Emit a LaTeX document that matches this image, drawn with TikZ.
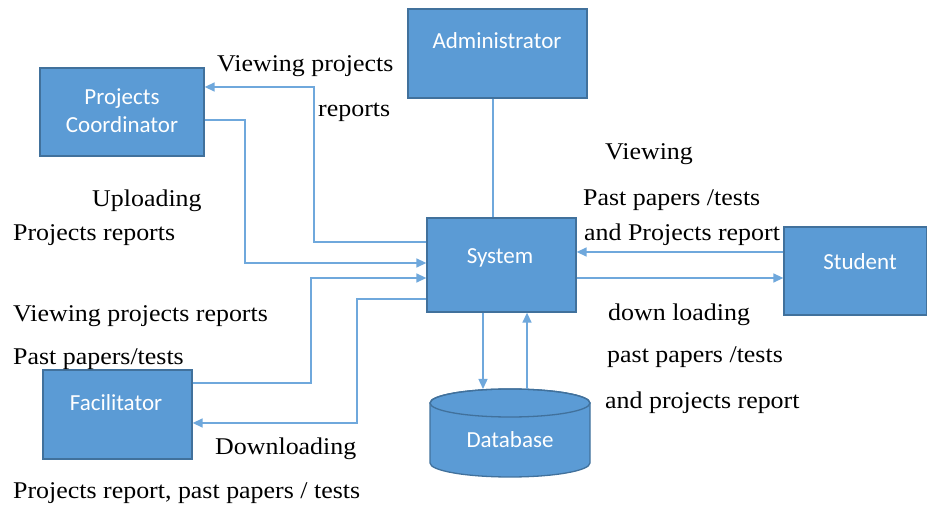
\documentclass[tikz,border=0pt]{standalone}
\usepackage{fontspec}
\usetikzlibrary{arrows.meta,calc}
\newfontfamily\lblfont[FakeStretch=1.08]{Liberation Serif}
\newfontfamily\boxfont{Carlito}
\definecolor{boxblue}{HTML}{5B9BD5}
\definecolor{boxedge}{HTML}{41719C}
\definecolor{lineblue}{HTML}{6FA8DC}
\tikzset{
  box/.style={draw=boxedge, fill=boxblue, line width=1.3pt, inner sep=0pt},
  boxtext/.style={text=white, font=\boxfont\fontsize{23}{27}\selectfont, anchor=base, inner sep=0pt},
  lbl/.style={text=black, font=\lblfont\fontsize{24}{28}\selectfont, anchor=base west, inner sep=0pt},
  flow/.style={draw=lineblue, line width=1.4pt, -{Triangle[width=9pt,length=10pt]}},
  plain/.style={draw=lineblue, line width=1.4pt}
}
\begin{document}
\begin{tikzpicture}[x=1pt,y=-1pt]
\useasboundingbox (0,0) rectangle (927,510);
% boxes
\node[box, minimum width=179pt, minimum height=89pt] (adm) at (497.5,53.5) {};
\node[boxtext] (admt) at (497,49) {Administrator};
\node[box, minimum width=164pt, minimum height=88pt] (pc) at (122,112) {};
\node[boxtext] (pct1) at (122,105) {Projects};
\node[boxtext] (pct2) at (122,133) {Coordinator};
\node[box, minimum width=149pt, minimum height=94pt] (sys) at (501.5,265) {};
\node[boxtext] (syst) at (500,264) {System};
\node[box, minimum width=143pt, minimum height=88pt] (stu) at (855.5,271) {};
\node[boxtext] (stut) at (860,270) {Student};
\node[box, minimum width=149pt, minimum height=89pt] (fac) at (117.5,414.5) {};
\node[boxtext] (fact) at (116,411) {Facilitator};
% database cylinder
\path[draw=boxedge, fill=boxblue, line width=1.3pt]
  (430,403) -- (430,463) arc[start angle=180, end angle=360, x radius=80pt, y radius=14pt]
  -- (590,403) arc[start angle=0, end angle=180, x radius=80pt, y radius=14pt] -- cycle;
\draw[draw=boxedge, line width=1.3pt] (510,403) ellipse[x radius=80pt, y radius=14pt];
\node[boxtext] (dbt) at (510,448) {Database};
\coordinate (dbin) at (483,389);
\coordinate (dbout) at (527,389);
% connectors
\draw[plain] (adm.south -| 493,0) -- (sys.north -| 493,0);
\draw[flow] (sys.west |- 0,242) -- (314,242) -- (314,87) -- (pc.east |- 0,87);
\draw[flow] (pc.east |- 0,120) -- (245,120) -- (245,263) -- (sys.west |- 0,263);
\draw[flow] (fac.east |- 0,383) -- (311,383) -- (311,278) -- (sys.west |- 0,278);
\draw[flow] (sys.west |- 0,299) -- (357,299) -- (357,423) -- (fac.east |- 0,423);
\draw[flow] (stu.west |- 0,252) -- (sys.east |- 0,252);
\draw[flow] (sys.east |- 0,278) -- (stu.west |- 0,278);
\draw[flow] (sys.south -| dbin) -- (dbin);
\draw[flow] (dbout) -- (sys.south -| dbout);
% labels
\node[lbl] (l1) at (217,72) {Viewing projects};
\node[lbl] (l2) at (318,117) {reports};
\node[lbl] (l3) at (92,207) {Uploading};
\node[lbl] (l4) at (13,241) {Projects reports};
\node[lbl] (l5) at (605,160) {Viewing};
\node[lbl] (l6) at (583,206) {Past papers /tests};
\node[lbl] (l7) at (584,241) {and Projects report};
\node[lbl] (l8) at (608,321) {down loading};
\node[lbl] (l9) at (607,363) {past papers /tests};
\node[lbl] (l10) at (605,409) {and projects report};
\node[lbl] (l11) at (13,322) {Viewing projects reports};
\node[lbl] (l12) at (13,365) {Past papers/tests};
\node[lbl] (l13) at (215,455) {Downloading};
\node[lbl] (l14) at (13,499) {Projects report, past papers / tests};
\end{tikzpicture}
\end{document}
